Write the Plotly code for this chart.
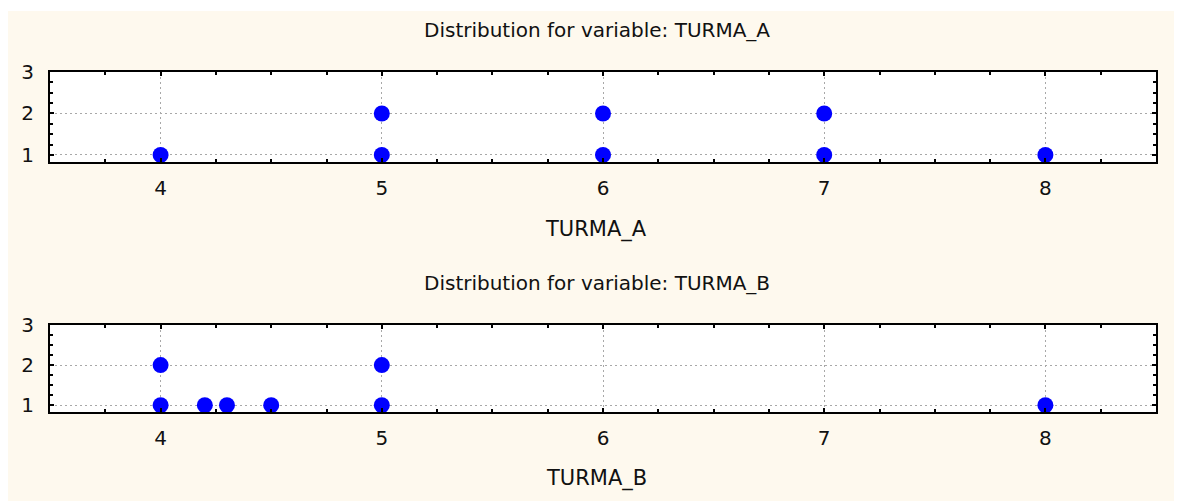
import plotly.graph_objects as go

# Data: dot-plot positions (value, stacked count index)
a_values = [4, 5, 5, 6, 6, 7, 7, 8]
a_counts = [1, 1, 2, 1, 2, 1, 2, 1]
b_values = [4, 4, 4.2, 4.3, 4.5, 5, 5, 8]
b_counts = [1, 2, 1, 1, 1, 1, 2, 1]

titles = ["Distribution for variable: TURMA_A", "Distribution for variable: TURMA_B"]
axis_titles = ["TURMA_A", "TURMA_B"]
x_ticks = [4, 5, 6, 7, 8]
y_ticks = [1, 2, 3]

OFF = 8  # page body margin
W, H = 1182, 501
ML, MR, MT, MB = 50 - OFF, W - (1156 - OFF), 72 - OFF, H - (412 - OFF)
PH = H - MT - MB
PW = W - ML - MR


def py(px):  # px given in screenshot coordinates
    return (H - MB - (px - OFF)) / PH


def pxx(px):
    return ((px - OFF) - ML) / PW


FONT = "DejaVu Sans, Verdana, sans-serif"
CREAM = "#FEF9EE"
TXT = "#111111"

fig = go.Figure()
fig.add_trace(go.Scatter(x=a_values, y=a_counts, mode="markers",
                         marker=dict(color="#0000FF", size=16), xaxis="x", yaxis="y"))
fig.add_trace(go.Scatter(x=b_values, y=b_counts, mode="markers",
                         marker=dict(color="#0000FF", size=16), xaxis="x2", yaxis="y2"))

axis_style = dict(showgrid=True, gridcolor="#A8A8A8", griddash="2px,3px", gridwidth=1,
                  showline=True, linecolor="black", linewidth=2, mirror="allticks",
                  ticks="inside", ticklen=4, tickcolor="black", tickwidth=2,
                  minor=dict(dtick=0.25, tick0=0, ticks="inside", ticklen=3,
                             tickcolor="black", tickwidth=2, showgrid=False),
                  zeroline=False, tickfont=dict(family=FONT, size=20, color=TXT),
                  fixedrange=True)
common_x = dict(axis_style, range=[3.5, 8.5], tickvals=x_ticks,
                ticktext=[str(v) for v in x_ticks], ticklabelstandoff=7)
common_y = dict(axis_style, range=[0.83, 3.0], tickvals=y_ticks,
                ticktext=[str(v) for v in y_ticks], ticklabelstandoff=10)

d1 = [py(162), 1.0]
d2 = [0.0, py(325)]

fig.update_layout(
    width=W, height=H,
    margin=dict(l=ML, r=MR, t=MT, b=MB),
    paper_bgcolor="white", plot_bgcolor="white",
    showlegend=False,
    xaxis=dict(common_x, domain=[0, 1], anchor="y"),
    yaxis=dict(common_y, domain=d1, anchor="x"),
    xaxis2=dict(common_x, domain=[0, 1], anchor="y2"),
    yaxis2=dict(common_y, domain=d2, anchor="x2"),
)

# cream background panel, then white plot areas on top of it
fig.add_shape(type="rect", xref="paper", yref="paper", layer="below",
              x0=pxx(8), x1=pxx(1177), y0=py(520), y1=py(11),
              fillcolor=CREAM, line=dict(width=0))
for xr, yr in [("x domain", "y domain"), ("x2 domain", "y2 domain")]:
    fig.add_shape(type="rect", xref=xr, yref=yr, layer="below",
                  x0=0, x1=1, y0=0, y1=1, fillcolor="white", line=dict(width=0))

label_pos = [(30, 229), (283, 478)]
for (ty, ay), t, at in zip(label_pos, titles, axis_titles):
    fig.add_annotation(text=t, xref="paper", yref="paper", x=pxx(597), y=py(ty),
                       showarrow=False, xanchor="center", yanchor="middle",
                       font=dict(family=FONT, size=20, color=TXT))
    fig.add_annotation(text=at, xref="paper", yref="paper", x=pxx(596), y=py(ay),
                       showarrow=False, xanchor="center", yanchor="middle",
                       font=dict(family=FONT, size=21, color=TXT))

fig.write_html("out.html")
